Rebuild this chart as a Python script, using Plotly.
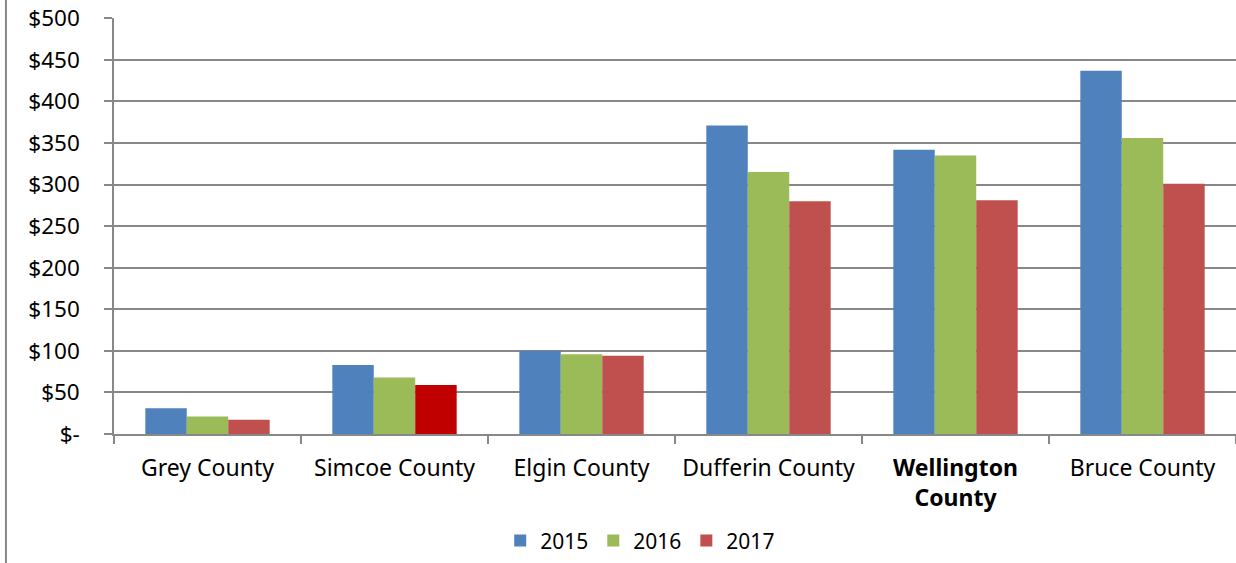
import plotly.graph_objects as go

categories = ["Grey County", "Simcoe County", "Elgin County", "Dufferin County", "Wellington County", "Bruce County"]
tick_labels = ["Grey County", "Simcoe County", "Elgin County", "Dufferin County", "<b>Wellington<br>County</b>", "Bruce County"]
series_names = ["2015", "2016", "2017"]
values_2015 = [31, 83, 100, 371, 342, 437]
values_2016 = [21, 68, 96, 315, 335, 356]
values_2017 = [17, 59, 94, 280, 281, 301]
y_tick_vals = [0, 50, 100, 150, 200, 250, 300, 350, 400, 450, 500]
y_tick_text = ["$-", "$50", "$100", "$150", "$200", "$250", "$300", "$350", "$400", "$450", "$500"]

colors = ["#4F81BD", "#9BBB59", "#C0504D"]
c2017 = [colors[2]] * len(categories)
c2017[1] = "#C00000"
series_colors = [colors[0], colors[1], c2017]

fig = go.Figure()
for name, vals, col in zip(series_names, [values_2015, values_2016, values_2017], series_colors):
    fig.add_trace(go.Bar(name=name, x=categories, y=vals, marker=dict(color=col, line=dict(width=0))))

font_family = "Noto Sans"
fig.update_layout(
    width=1236, height=563,
    margin=dict(l=114, r=0, t=18, b=129, autoexpand=False),
    paper_bgcolor="white", plot_bgcolor="white",
    barmode="group", bargap=0.335, bargroupgap=0,
    font=dict(family=font_family, size=22, color="#000"),
    showlegend=True,
    legend=dict(orientation="h", x=0.469, xanchor="center", y=-0.257, yanchor="middle",
                font=dict(size=21), itemwidth=30, traceorder="normal"),
)
fig.update_xaxes(
    type="category", tickmode="array", tickvals=categories, ticktext=tick_labels,
    tickson="boundaries", ticks="outside", ticklen=8, tickcolor="#888", tickwidth=1.5,
    showline=True, linecolor="#888", linewidth=1.5, showgrid=False,
    tickfont=dict(size=23), ticklabelstandoff=13, automargin=False,
)
fig.update_yaxes(
    range=[0, 500.3], tickmode="array", tickvals=y_tick_vals, ticktext=y_tick_text,
    showgrid=True, gridcolor="#888", gridwidth=1.5,
    ticks="outside", ticklen=8, tickcolor="#888", tickwidth=1.5,
    showline=True, linecolor="#888", linewidth=1.5, zeroline=False,
    tickfont=dict(size=22.5), ticklabelstandoff=20, automargin=False,
    ticklabeloverflow="allow",
)
fig.add_shape(type="line", xref="paper", yref="paper", x0=-0.0963, x1=-0.0963, y0=-0.31, y1=1.043,
              line=dict(color="#888", width=2))
fig.write_html("out.html", config={"displayModeBar": False},
               post_script="document.body.style.margin='0';document.body.style.overflow='hidden';")
